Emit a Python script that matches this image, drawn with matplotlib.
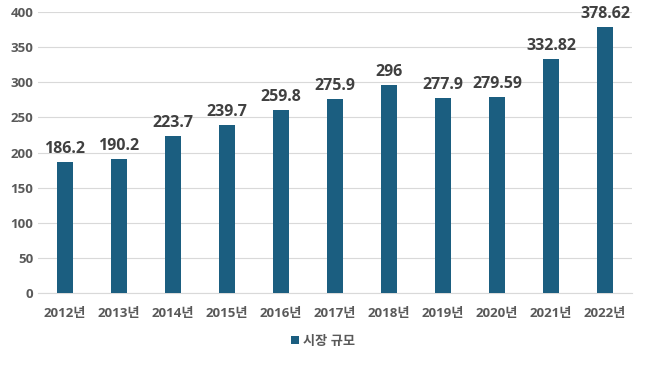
import numpy as np
import matplotlib
matplotlib.use("Agg")
import matplotlib.pyplot as plt

plt.rcParams['font.family'] = ['Open Sans', 'Noto Sans CJK KR', 'DejaVu Sans']

years = ['2012년', '2013년', '2014년', '2015년', '2016년', '2017년',
         '2018년', '2019년', '2020년', '2021년', '2022년']
values = [186.2, 190.2, 223.7, 239.7, 259.8, 275.9, 296, 277.9, 279.59, 332.82, 378.62]
labels = ['186.2', '190.2', '223.7', '239.7', '259.8', '275.9', '296',
          '277.9', '279.59', '332.82', '378.62']
series_name = '시장 규모'

bar_color = '#1B5E80'
text_color = '#595959'

fig = plt.figure(figsize=(6.5, 3.66), dpi=100)
ax = fig.add_axes([38 / 650, 1 - 293 / 366, 594 / 650, 281 / 366])

x = np.arange(len(years))
ax.bar(x, values, width=0.31, color=bar_color, label=series_name, zorder=3)

# value labels above each bar
for xi, v, lab in zip(x, values, labels):
    ax.annotate(lab, (xi, v), xytext=(0, 6.5), textcoords='offset points',
                ha='center', va='baseline', fontsize=11.5,
                fontweight='bold', color='#404040')

ax.set_xlim(-0.5, len(years) - 0.5)
ax.set_ylim(0, 400)
ax.set_yticks(np.arange(0, 401, 50))
ax.yaxis.grid(True, color='#D9D9D9', linewidth=0.8, zorder=0)
ax.set_xticks(x)
ax.set_xticklabels(years)
ax.tick_params(axis='both', length=0, colors=text_color, labelsize=9.5)
ax.tick_params(axis='x', pad=10)
for lbl in ax.get_xticklabels() + ax.get_yticklabels():
    lbl.set_fontweight('bold')
for s in ['top', 'right', 'left']:
    ax.spines[s].set_visible(False)
ax.spines['bottom'].set_color('#D9D9D9')

leg = fig.legend(loc='center', bbox_to_anchor=(323 / 650, 1 - 341 / 366), frameon=False,
                 handlelength=0.6, handleheight=0.6, handletextpad=0.3,
                 prop={'size': 9.5, 'weight': 'bold'})
for t in leg.get_texts():
    t.set_color(text_color)

fig.savefig('out.png', dpi=100)
